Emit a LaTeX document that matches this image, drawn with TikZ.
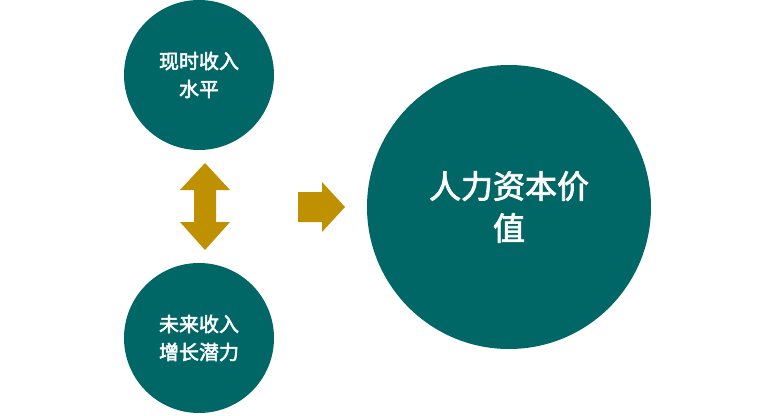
\documentclass[tikz,border=0pt]{standalone}
\usepackage{fontspec}
\newfontfamily\cjk{Noto Sans CJK SC}[AutoFakeBold=2.5]
\definecolor{teal1}{RGB}{0,102,102}
\definecolor{gold1}{RGB}{191,144,0}
\begin{document}
\begin{tikzpicture}[x=1pt,y=-1pt,
  circ/.style={circle,fill=teal1,draw=none,text=white,font=\cjk\bfseries,align=center,inner sep=0pt},
  arr/.style={fill=gold1,draw=none}]
\useasboundingbox (0,0) rectangle (776,415);
\node[circ,minimum size=150pt,font=\cjk\bfseries\fontsize{20}{28}\selectfont] (a) at (199,75) {现时收入\\水平};
\node[circ,minimum size=150pt,font=\cjk\bfseries\fontsize{20}{28}\selectfont] (b) at (199,338) {未来收入\\增长潜力};
\node[circ,minimum size=284pt,font=\cjk\bfseries\fontsize{32}{42}\selectfont] (c) at (509,207) {人力资本价\\值};
\fill[arr] (205,163) -- (230,190) -- (216,190) -- (216,222) -- (230,222) -- (205,250)
  -- (180,222) -- (194,222) -- (194,190) -- (180,190) -- cycle;
\fill[arr] (298,192) -- (322,192) -- (322,182) -- (345,207) -- (322,232) -- (322,222) -- (298,222) -- cycle;
\end{tikzpicture}
\end{document}
